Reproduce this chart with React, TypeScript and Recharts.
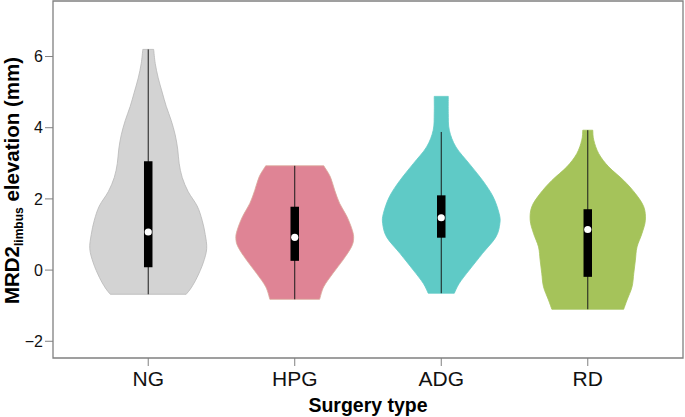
import { ScatterChart, Scatter, XAxis, YAxis, ReferenceArea, Label } from 'recharts';

const groups = ['NG', 'HPG', 'ADG', 'RD'];

// violin outlines: elevation levels and half widths (in category units)
const ngLevels = [-0.68, -0.5, -0.2, 0.2, 0.6, 1.0, 1.4, 1.8, 2.2, 2.6, 3.0, 3.4, 3.8, 4.2, 4.6, 5.0, 5.4, 5.8, 6.2];
const ngWidths = [0.259, 0.293, 0.334, 0.375, 0.399, 0.389, 0.368, 0.334, 0.273, 0.232, 0.211, 0.201, 0.184, 0.157, 0.123, 0.095, 0.068, 0.048, 0.037];

const hpgLevels = [-0.82, -0.47, -0.09, 0.28, 0.65, 0.89, 1.12, 1.5, 1.87, 2.24, 2.62, 2.93];
const hpgWidths = [0.17, 0.198, 0.261, 0.329, 0.387, 0.402, 0.393, 0.357, 0.307, 0.273, 0.243, 0.198];

const adgLevels = [-0.65, -0.37, 0.0, 0.47, 0.93, 1.31, 1.59, 2.06, 2.52, 2.99, 3.46, 3.93, 4.4, 4.88];
const adgWidths = [0.089, 0.123, 0.191, 0.282, 0.373, 0.4, 0.395, 0.354, 0.282, 0.191, 0.1, 0.055, 0.048, 0.048];

const rdLevels = [-1.1, -0.84, -0.47, -0.09, 0.28, 0.65, 1.03, 1.4, 1.78, 2.15, 2.52, 2.9, 3.27, 3.65, 3.93];
const rdWidths = [0.245, 0.268, 0.302, 0.314, 0.325, 0.336, 0.37, 0.393, 0.382, 0.325, 0.245, 0.143, 0.075, 0.041, 0.034];

// box plot stats
const whiskerLow = [-0.68, -0.82, -0.65, -1.1];
const whiskerHigh = [6.2, 2.93, 3.88, 3.93];
const q1 = [0.08, 0.26, 0.91, -0.19];
const q3 = [3.06, 1.78, 2.1, 1.71];
const medians = [1.07, 0.92, 1.47, 1.14];

const yTicks = [-2, 0, 2, 4, 6];

const fills = ['#d3d3d3', '#df8495', '#5fcac6', '#a5c35a'];
const borders = ['#b8b8b8', '#d9a99a', '#5fcac6', '#a5c35a'];

const X_DOMAIN = [0.35, 4.65];
const Y_DOMAIN = [-2.47, 7.56];
const FONT = '"Liberation Sans", Arial, Helvetica, sans-serif';

const profiles = [
  [ngLevels, ngWidths],
  [hpgLevels, hpgWidths],
  [adgLevels, adgWidths],
  [rdLevels, rdWidths],
];

function outline(pos: number, levels: number[], widths: number[]) {
  const right = levels.map((y, i) => ({ x: pos + widths[i], y }));
  const left = levels.map((y, i) => ({ x: pos - widths[i], y })).reverse();
  return [...right, ...left, right[0]];
}

// smooth path through pixel points (catmull-rom as cubic beziers)
function smooth(pts: { x: number; y: number }[]) {
  let d = '';
  for (let i = 0; i < pts.length - 1; i++) {
    const p0 = pts[i - 1] || pts[i];
    const p1 = pts[i];
    const p2 = pts[i + 1];
    const p3 = pts[i + 2] || p2;
    const c1x = p1.x + (p2.x - p0.x) / 6;
    const c1y = p1.y + (p2.y - p0.y) / 6;
    const c2x = p2.x - (p3.x - p1.x) / 6;
    const c2y = p2.y - (p3.y - p1.y) / 6;
    d += ` C${c1x},${c1y} ${c2x},${c2y} ${p2.x},${p2.y}`;
  }
  return d;
}

function violinLine(fill: string, stroke: string) {
  return (props: any) => {
    const pts = (props.points || []).filter((p: any) => p && Number.isFinite(p.x) && Number.isFinite(p.y));
    if (pts.length < 4) return <g />;
    const n = (pts.length - 1) / 2;
    const right = pts.slice(0, n);
    const left = pts.slice(n, 2 * n);
    const d = `M${right[0].x},${right[0].y}` + smooth(right) + ` L${left[0].x},${left[0].y}` + smooth(left) + ' Z';
    return <path d={d} fill={fill} stroke={stroke} strokeWidth={0.8} />;
  };
}

const noDot = () => <g />;

function YTitle(props: any) {
  const vb = props.viewBox || {};
  const cx = 19;
  const cy = vb.y + vb.height / 2 + 1;
  return (
    <text
      x={cx}
      y={cy}
      transform={`rotate(-90, ${cx}, ${cy})`}
      textAnchor="middle"
      fontFamily={FONT}
      fontWeight="bold"
      fontSize={20.5}
      fill="#000"
    >
      <tspan>MRD2</tspan>
      <tspan fontSize={12} dy={4}>limbus</tspan>
      <tspan dy={-4}> elevation (mm)</tspan>
    </text>
  );
}

function XTitle(props: any) {
  const vb = props.viewBox || {};
  return (
    <text
      x={vb.x + vb.width / 2}
      y={vb.y + 54}
      textAnchor="middle"
      fontFamily={FONT}
      fontWeight="bold"
      fontSize={19.5}
      fill="#000"
    >
      Surgery type
    </text>
  );
}

export default function App() {
  return (
    <div style={{ position: 'absolute', left: 0, top: 0, background: '#fff' }}>
      <ScatterChart width={685} height={417} margin={{ top: 1, right: 2, bottom: 0, left: 0 }}>
        <XAxis
          type="number"
          dataKey="x"
          domain={X_DOMAIN}
          allowDataOverflow
          ticks={[1, 2, 3, 4]}
          tickFormatter={(v: number) => groups[v - 1]}
          height={59}
          axisLine={false}
          tickLine={{ stroke: '#808080' }}
          tickSize={8}
          tickMargin={5}
          tick={{ fill: '#111', fontSize: 21, fontFamily: FONT }}
        >
          <Label content={XTitle} />
        </XAxis>
        <YAxis
          type="number"
          dataKey="y"
          domain={Y_DOMAIN}
          allowDataOverflow
          ticks={yTicks}
          tickFormatter={(v: number) => String(v).replace('-', '\u2212')}
          width={53}
          axisLine={false}
          tickLine={{ stroke: '#808080' }}
          tickSize={8}
          tickMargin={2}
          tick={{ fill: '#111', fontSize: 16, fontFamily: FONT }}
        >
          <Label content={YTitle} />
        </YAxis>
        <ReferenceArea
          x1={X_DOMAIN[0]}
          x2={X_DOMAIN[1]}
          y1={Y_DOMAIN[0]}
          y2={Y_DOMAIN[1]}
          fill="none"
          stroke="#808080"
          strokeWidth={1.3}
          ifOverflow="visible"
        />
        {profiles.map(([levels, widths], i) => (
          <Scatter
            key={`violin-${i}`}
            data={outline(i + 1, levels, widths)}
            line={violinLine(fills[i], borders[i])}
            shape={noDot}
            isAnimationActive={false}
          />
        ))}
        {groups.map((g, i) => (
          <Scatter
            key={`whisker-${g}`}
            data={[{ x: i + 1, y: whiskerLow[i] }, { x: i + 1, y: whiskerHigh[i] }]}
            line={{ stroke: '#1a1a1a', strokeWidth: 1 }}
            lineJointType="linear"
            shape={noDot}
            isAnimationActive={false}
          />
        ))}
        {groups.map((g, i) => (
          <Scatter
            key={`box-${g}`}
            data={[{ x: i + 1, y: q1[i] }, { x: i + 1, y: q3[i] }]}
            line={{ stroke: '#000', strokeWidth: 8.5, strokeLinecap: 'butt' }}
            lineJointType="linear"
            shape={noDot}
            isAnimationActive={false}
          />
        ))}
        <Scatter
          data={medians.map((m, i) => ({ x: i + 1, y: m }))}
          shape={(p: any) => <circle cx={p.cx} cy={p.cy} r={3.6} fill="#fff" />}
          isAnimationActive={false}
        />
      </ScatterChart>
    </div>
  );
}
